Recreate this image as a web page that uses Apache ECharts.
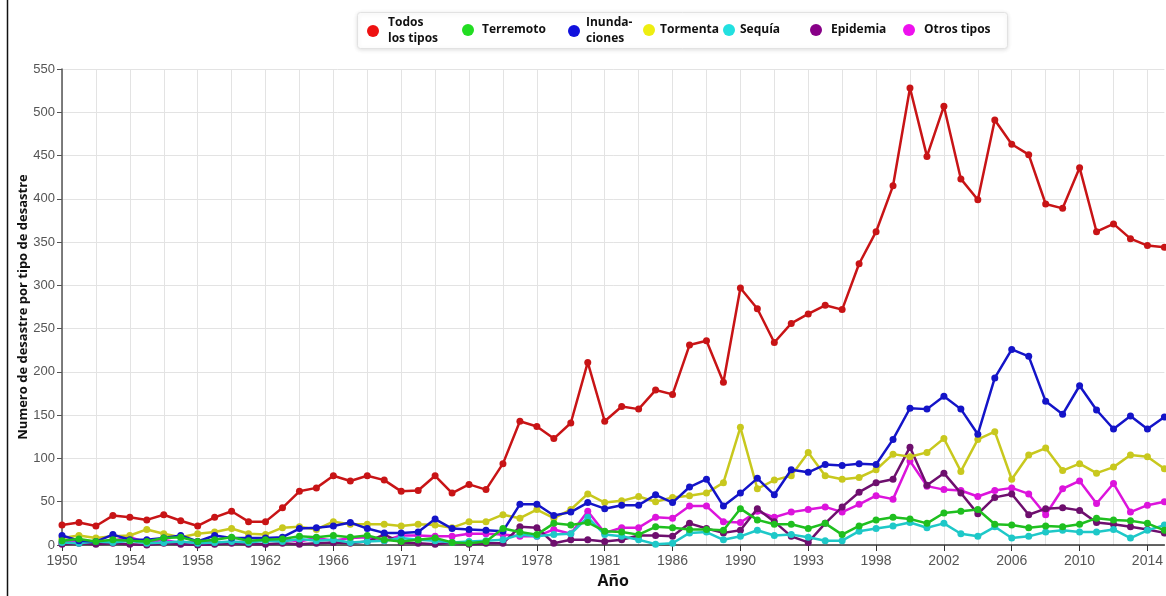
<!DOCTYPE html>
<html>
<head>
<meta charset="utf-8">
<script src="https://cdn.jsdelivr.net/npm/echarts@6/dist/echarts.min.js"></script>
<style>
html,body{margin:0;padding:0;background:#fff;}
#chart{width:1166px;height:596px;}
</style>
</head>
<body>
<div id="chart"></div>
<script>
// Category labels (year ticks shown every 4th point)
const years = ['1950','1951','1952','1953','1954','1955','1956','1957','1958','1959',
  '1960','1961','1962','1963','1964','1965','1966','1968','1969','1970',
  '1971','1972','1973','1973b','1974','1975','1976','1977','1978','1979',
  '1980','1980b','1981','1982','1983','1984','1986','1987','1988','1989',
  '1990','1991','1992','1992b','1993','1994','1995','1996','1998','1999',
  '2000','2001','2002','2003','2004','2005','2006','2007','2008','2009',
  '2010','2011','2012','2013','2014','2015'];

const todos = [23,26,22,34,32,29,35,28,22,32,39,27,27,43,62,66,80,74,80,75,62,63,80,60,70,64,94,143,137,123,141,211,143,160,157,179,174,231,236,188,297,273,234,256,267,277,272,325,362,415,528,449,507,423,399,491,463,451,394,389,436,362,371,354,346,344];
const terremoto = [5,7,4,6,5,4,8,9,4,6,9,5,6,7,10,9,11,9,11,6,4,6,8,3,2,4,19,15,12,25,23,26,16,15,12,21,20,18,18,17,42,29,24,24,19,25,12,22,29,32,30,25,37,39,41,24,23,20,22,21,24,31,29,28,25,17];
const inundaciones = [11,5,4,12,6,6,8,11,4,11,8,8,8,9,19,20,22,26,19,14,14,15,30,19,18,17,16,47,47,34,38,49,42,46,46,58,49,67,76,45,60,77,58,87,84,93,92,94,93,122,158,157,172,157,128,193,226,218,166,151,184,156,134,149,134,148];
const tormenta = [8,11,8,10,11,18,13,9,13,15,19,13,12,20,21,18,27,24,24,24,22,24,23,20,27,27,35,31,41,31,41,59,49,51,56,50,55,57,60,72,136,65,75,80,107,80,76,78,87,105,102,107,123,85,122,131,76,104,112,86,94,83,90,104,102,88];
const sequia = [3,2,4,3,5,2,3,4,2,3,4,3,5,4,7,5,6,3,4,5,8,6,5,3,4,5,6,12,10,12,13,32,12,10,6,1,2,14,15,6,10,17,11,12,9,5,5,16,19,22,26,20,25,13,10,21,8,10,15,17,15,15,18,8,17,23];
const epidemia = [1,2,1,2,1,0,2,1,0,1,2,1,1,2,1,2,3,2,4,12,3,2,1,3,1,2,2,21,20,2,6,6,4,6,11,11,10,25,19,14,17,42,27,10,3,25,44,61,72,76,113,69,83,60,36,55,59,35,42,43,40,26,24,21,18,14];
const otros = [3,5,2,5,9,3,6,2,4,3,3,4,5,7,4,8,5,8,9,5,11,11,10,10,13,13,12,10,10,18,13,39,14,20,20,32,31,45,45,27,26,39,32,38,41,44,38,47,57,53,97,68,64,63,56,63,66,59,35,65,74,48,71,38,46,50];

const seriesNames = ['Todos los tipos','Terremoto','Inundaciones','Tormenta','Sequía','Epidemia','Otros tipos'];
const legendLabels = ['Todos\nlos tipos','Terremoto','Inunda-\nciones','Tormenta','Sequía','Epidemia','Otros tipos'];
const lineColors = ['#c81416','#1fbf1f','#1414c8','#c8c81e','#1ec8c8','#6e0f6e','#dc14dc'];
const iconColors = ['#ee1111','#22dd22','#1111dd','#eeee11','#22e0e0','#880088','#ee11ee'];
const seriesData = [todos,terremoto,inundaciones,tormenta,sequia,epidemia,otros];

const tickYears = ['1950','1954','1958','1962','1966','1971','1974','1978','1981','1986','1990','1993','1998','2002','2006','2010','2014'];

const legendLeft = [362,457,563,638,718,805,898];
const legendTop = [10,17,10,17,17,17,17];
const legendWidth = [20,18,14,12,12,20,20];

const font = "'Liberation Sans Narrow','Liberation Sans',Arial,sans-serif";
const boldFont = "'Open Sans','Liberation Sans',Arial,sans-serif";

const chart = echarts.init(document.getElementById('chart'), null, {renderer:'canvas'});

const legends = seriesNames.map((n,i)=>({
  left: legendLeft[i], top: legendTop[i],
  orient:'horizontal',
  icon:'circle',
  itemWidth: legendWidth[i], itemHeight: 12,
  selectedMode:false,
  data:[{name:n, itemStyle:{color:iconColors[i]}}],
  formatter: () => legendLabels[i],
  textStyle:{fontFamily:boldFont, fontWeight:'bold', fontSize:12, color:'#111', lineHeight:16}
}));

const option = {
  animation:false,
  backgroundColor:'#fff',
  graphic:[
    {type:'rect', left:357, top:12, shape:{width:650, height:36, r:3},
     style:{fill:'#fff', stroke:'#e2e2e2', lineWidth:1, shadowBlur:4, shadowColor:'rgba(0,0,0,0.12)', shadowOffsetY:1}, z:-1},
    {type:'line', shape:{x1:7.5,y1:0,x2:7.5,y2:596}, style:{stroke:'#111', lineWidth:1.5}, silent:true}
  ],
  legend: legends,
  grid:{left:62, right:-9, top:69, bottom:51, containLabel:false},
  xAxis:{
    type:'category', data:years, boundaryGap:false,
    name:'Año', nameLocation:'middle', nameGap:28,
    nameTextStyle:{fontFamily:boldFont, fontWeight:'bold', fontSize:16, color:'#111'},
    axisLine:{lineStyle:{color:'#333', width:1.5}},
    axisTick:{show:true, interval:3, length:6, lineStyle:{color:'#333'}},
    axisLabel:{interval:3, margin:9, fontFamily:font, fontSize:14, color:'#555',
      formatter:(v,idx)=> tickYears[idx/4] !== undefined ? tickYears[idx/4] : ''},
    splitLine:{show:true, interval:1, lineStyle:{color:'#e3e3e3', width:1}}
  },
  yAxis:{
    type:'value', min:0, max:550, interval:50,
    name:'Numero de desastre por tipo de desastre', nameLocation:'middle', nameGap:32,
    nameMoveOverlap:false,
    nameTextStyle:{fontFamily:boldFont, fontWeight:'bold', fontSize:13, color:'#111'},
    axisLine:{show:true, lineStyle:{color:'#555', width:1.5}},
    axisTick:{show:true, length:5, lineStyle:{color:'#555'}},
    axisLabel:{margin:7, fontFamily:font, fontSize:13, color:'#555'},
    splitLine:{show:true, lineStyle:{color:'#e3e3e3', width:1}}
  },
  series: seriesNames.map((n,i)=>({
    name:n, type:'line', data:seriesData[i],
    symbol:'circle', symbolSize:7, showSymbol:true,
    lineStyle:{color:lineColors[i], width:2.5},
    itemStyle:{color:lineColors[i]},
    z: 10 - i
  }))
};
chart.setOption(option);
</script>
</body>
</html>
